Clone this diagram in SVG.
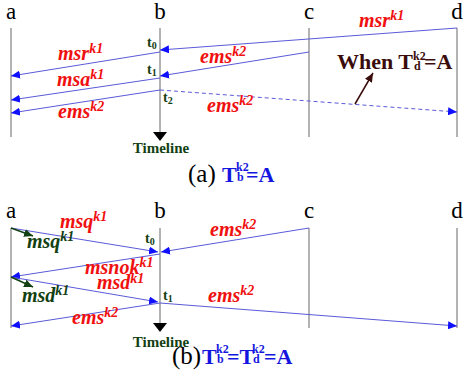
<svg xmlns="http://www.w3.org/2000/svg" width="464" height="383" viewBox="0 0 464 383">
<defs>
<style>
text{font-family:"Liberation Serif","Times New Roman","DejaVu Serif",serif}
.node{font-size:23px;fill:#000}
.life{stroke:#666;stroke-width:1;fill:none}
.msg{stroke:#5a5ad8;stroke-width:1;fill:none}
.dash{stroke-dasharray:4,3}
.lbl{font-size:20px;font-weight:bold;font-style:italic;fill:#f01010}
.glbl{font-size:20px;font-weight:bold;font-style:italic;fill:#124012}
.sup{font-size:14px}
.t{font-size:14px;font-weight:bold;fill:#124012}
.tl{font-size:15px;font-weight:bold;fill:#124012}
.cap{font-size:25px;fill:#000}
.capb{font-size:22px;font-weight:bold;fill:#1515e0}
.capbs{font-size:12px;font-weight:bold;fill:#1515e0}
.when{font-size:22px;font-weight:bold;fill:#3a0c0c}
.whens{font-size:12px;font-weight:bold;fill:#3a0c0c}
</style>
<marker id="ah" markerUnits="userSpaceOnUse" markerWidth="9" markerHeight="8" refX="9" refY="4" orient="auto">
<path d="M0,0 L9,4 L0,8 z" fill="#1010ff"/>
</marker>
<marker id="gh" markerUnits="userSpaceOnUse" markerWidth="9" markerHeight="8" refX="9" refY="4" orient="auto">
<path d="M0,0 L9,4 L0,8 z" fill="#124012"/>
</marker>
<marker id="bh" markerUnits="userSpaceOnUse" markerWidth="9" markerHeight="8" refX="9" refY="4" orient="auto">
<path d="M0,0 L9,4 L0,8 z" fill="#3a0c0c"/>
</marker>
</defs>

<!-- Panel (a) -->
<g id="a-a"><text class="node" x="11" y="19" text-anchor="middle">a</text><line class="life" x1="11" y1="28" x2="11" y2="137"/></g>
<g id="a-b"><text class="node" x="160" y="19" text-anchor="middle">b</text><line class="life" x1="160" y1="28" x2="160" y2="133"/><path d="M153,132 L167,132 L160,141 z" fill="#000"/><text class="tl" x="161" y="153" text-anchor="middle">Timeline</text></g>
<g id="a-c"><text class="node" x="309" y="19" text-anchor="middle">c</text><line class="life" x1="309" y1="28" x2="309" y2="137"/></g>
<g id="a-d"><text class="node" x="457" y="19" text-anchor="middle">d</text><line class="life" x1="457" y1="28" x2="457" y2="137"/></g>

<g id="a-connectors">
<line class="msg" x1="457" y1="28" x2="160" y2="50" marker-end="url(#ah)"/>
<line class="msg" x1="160" y1="52" x2="11" y2="76" marker-end="url(#ah)"/>
<line class="msg" x1="309" y1="52" x2="160" y2="76" marker-end="url(#ah)"/>
<line class="msg" x1="160" y1="78" x2="11" y2="100" marker-end="url(#ah)"/>
<line class="msg" x1="160" y1="90" x2="11" y2="113" marker-end="url(#ah)"/>
<line class="msg dash" x1="160" y1="90" x2="457" y2="112" marker-end="url(#ah)"/>
<line x1="355" y1="104" x2="373" y2="73" stroke="#3a0c0c" stroke-width="1.5" marker-end="url(#bh)"/>
</g>

<g id="a-labels">
<text class="lbl" x="359" y="27">msr<tspan class="sup" dy="-7">k1</tspan></text>
<text class="lbl" x="58" y="60">msr<tspan class="sup" dy="-7">k1</tspan></text>
<text class="lbl" x="200" y="63">ems<tspan class="sup" dy="-7">k2</tspan></text>
<text class="lbl" x="57" y="86">msa<tspan class="sup" dy="-7">k1</tspan></text>
<text class="lbl" x="58" y="118">ems<tspan class="sup" dy="-7">k2</tspan></text>
<text class="lbl" x="207" y="112">ems<tspan class="sup" dy="-7">k2</tspan></text>
<text class="t" x="147" y="47">t<tspan font-size="10" dy="2">0</tspan></text>
<text class="t" x="147" y="74">t<tspan font-size="10" dy="2">1</tspan></text>
<text class="t" x="163" y="102">t<tspan font-size="10" dy="2">2</tspan></text>
<g id="a-when">
<text class="when" x="337" y="69">When T</text>
<text class="whens" x="413" y="60">k2</text>
<text class="whens" x="414" y="70">d</text>
<text class="when" x="424" y="69">=A</text>
</g>
</g>

<g id="a-caption">
<text class="cap" x="188" y="182">(a)</text>
<text class="capb" x="222" y="182">T</text>
<text class="capbs" x="236" y="171">k2</text>
<text class="capbs" x="237" y="181">b</text>
<text class="capb" x="246" y="182">=A</text>
</g>

<!-- Panel (b) -->
<g id="b-a"><text class="node" x="11" y="218" text-anchor="middle">a</text><line class="life" x1="11" y1="228" x2="11" y2="328"/></g>
<g id="b-b"><text class="node" x="160" y="218" text-anchor="middle">b</text><line class="life" x1="160" y1="228" x2="160" y2="324"/><path d="M153,323 L167,323 L160,332 z" fill="#000"/><text class="tl" x="161" y="347" text-anchor="middle">Timeline</text></g>
<g id="b-c"><text class="node" x="309" y="218" text-anchor="middle">c</text><line class="life" x1="309" y1="228" x2="309" y2="328"/></g>
<g id="b-d"><text class="node" x="457" y="218" text-anchor="middle">d</text><line class="life" x1="457" y1="228" x2="457" y2="328"/></g>

<g id="b-connectors">
<line class="msg" x1="11" y1="228" x2="158" y2="252" marker-end="url(#ah)"/>
<line class="msg" x1="309" y1="228" x2="161" y2="252" marker-end="url(#ah)"/>
<line class="msg" x1="160" y1="254" x2="11" y2="277" marker-end="url(#ah)"/>
<line class="msg" x1="11" y1="277" x2="158" y2="302" marker-end="url(#ah)"/>
<line class="msg" x1="160" y1="303" x2="457" y2="326" marker-end="url(#ah)"/>
<line class="msg" x1="160" y1="303" x2="11" y2="326" marker-end="url(#ah)"/>
<line x1="11" y1="228" x2="33" y2="236" stroke="#124012" stroke-width="1.5" marker-end="url(#gh)"/>
<line x1="11" y1="277" x2="33" y2="287" stroke="#124012" stroke-width="1.5" marker-end="url(#gh)"/>
</g>

<g id="b-labels">
<text class="lbl" x="60" y="228">msq<tspan class="sup" dy="-7">k1</tspan></text>
<text class="glbl" x="27" y="248">msq<tspan class="sup" dy="-7">k1</tspan></text>
<text class="lbl" x="210" y="236">ems<tspan class="sup" dy="-7">k2</tspan></text>
<text class="lbl" x="85" y="274">msnok<tspan class="sup" dy="-7">k1</tspan></text>
<text class="lbl" x="97" y="289">msd<tspan class="sup" dy="-6">k1</tspan></text>
<text class="glbl" x="22" y="302">msd<tspan class="sup" dy="-7">k1</tspan></text>
<text class="lbl" x="208" y="302">ems<tspan class="sup" dy="-7">k2</tspan></text>
<text class="lbl" x="72" y="324">ems<tspan class="sup" dy="-7">k2</tspan></text>
<text class="t" x="145" y="243">t<tspan font-size="10" dy="2">0</tspan></text>
<text class="t" x="163" y="300">t<tspan font-size="10" dy="2">1</tspan></text>
</g>

<g id="b-caption">
<text class="cap" x="172" y="364">(b)</text>
<text class="capb" x="202" y="364">T</text>
<text class="capbs" x="216" y="353">k2</text>
<text class="capbs" x="217" y="363">b</text>
<text class="capb" x="227" y="364">=T</text>
<text class="capbs" x="252" y="353">k2</text>
<text class="capbs" x="253" y="363">d</text>
<text class="capb" x="264" y="364">=A</text>
</g>
</svg>
